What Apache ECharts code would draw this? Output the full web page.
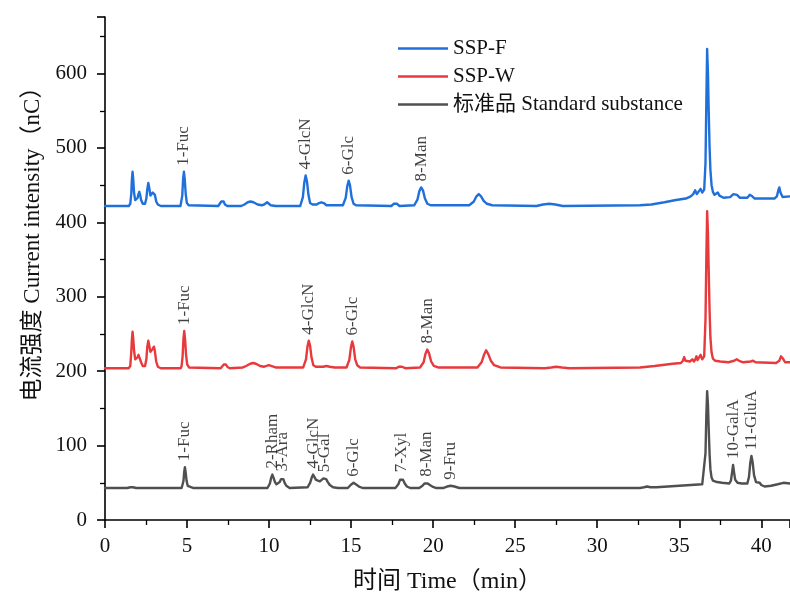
<!DOCTYPE html>
<html>
<head>
<meta charset="utf-8">
<script src="https://cdn.jsdelivr.net/npm/echarts@6/dist/echarts.min.js"></script>
<style>
  html, body { margin: 0; padding: 0; background: #fff; }
  #chart { width: 790px; height: 599px; }
</style>
</head>
<body>
<div id="chart"></div>
<script>
// Ion chromatograms: retention time (min) vs. detector response (nC)
const seriesNames = ['SSP-F', 'SSP-W', '标准品 Standard substance'];

// SSP-F trace, [time, response]
const sspF = [
  [0, 422], [1.45, 422], [1.54, 425], [1.6, 438], [1.64, 458], [1.68, 468], [1.72, 458],
  [1.77, 440], [1.84, 430], [1.92, 429], [1.99, 433], [2.04, 438], [2.09, 441], [2.14, 437],
  [2.2, 430], [2.3, 425], [2.44, 425], [2.52, 432], [2.58, 445], [2.64, 453], [2.7, 446],
  [2.77, 436], [2.84, 436], [2.91, 440], [2.98, 442], [3.04, 437], [3.12, 428], [3.22, 424],
  [3.4, 422], [4.6, 422], [4.65, 424], [4.71, 436], [4.76, 458], [4.81, 468], [4.86, 458],
  [4.92, 438], [4.99, 426], [5.1, 423], [6.9, 422], [7.02, 424], [7.09, 428], [7.16, 430],
  [7.23, 428], [7.31, 424], [7.45, 422], [8.3, 422], [8.5, 424], [8.7, 427], [8.87, 428],
  [9.05, 427], [9.3, 424], [9.55, 423], [9.7, 424], [9.8, 426], [9.88, 427], [9.96, 426],
  [10.1, 423], [10.4, 422], [11.9, 422], [11.96, 423], [12.06, 434], [12.15, 454], [12.23, 463],
  [12.31, 455], [12.4, 437], [12.5, 426], [12.65, 424], [12.9, 424], [13.05, 426], [13.19, 427],
  [13.33, 426], [13.5, 423], [14.5, 423], [14.55, 424], [14.67, 433], [14.77, 449], [14.85, 456],
  [14.93, 450], [15.03, 434], [15.15, 425], [15.3, 423], [17.45, 422], [17.6, 425], [17.69, 426],
  [17.8, 425], [17.95, 422], [18.85, 423], [18.9, 424], [19.05, 431], [19.16, 442], [19.27, 447],
  [19.38, 443], [19.5, 432], [19.65, 425], [19.85, 423], [22.2, 423], [22.28, 424], [22.48, 428],
  [22.64, 435], [22.78, 438], [22.92, 435], [23.08, 429], [23.28, 425], [23.6, 423], [26.3, 422],
  [26.7, 424], [27.08, 425], [27.45, 424], [27.9, 422], [32.6, 423], [33.3, 424], [34.1, 427],
  [34.8, 430], [35.4, 432], [35.7, 435], [35.85, 438], [35.97, 443], [36.07, 438], [36.17, 437],
  [36.3, 445], [36.4, 440], [36.52, 444], [36.6, 480], [36.65, 560], [36.7, 633], [36.75, 600],
  [36.8, 545], [36.85, 500], [36.9, 470], [36.97, 450], [37.05, 441], [37.15, 437], [37.25, 437],
  [37.35, 440], [37.45, 436], [37.7, 433], [38.1, 434], [38.3, 438], [38.4, 440], [38.52, 437],
  [38.7, 433], [39.15, 433], [39.3, 437], [39.36, 438], [39.45, 435], [39.6, 432], [40.8, 432],
  [40.95, 435], [41.05, 444], [41.1, 447], [41.17, 440], [41.3, 434], [41.75, 435]
];

// SSP-W trace, [time, response]
const sspW = [
  [0, 204], [1.45, 204], [1.54, 207], [1.6, 225], [1.64, 243], [1.68, 253], [1.72, 244],
  [1.77, 228], [1.84, 216], [1.92, 215], [1.99, 219], [2.04, 222], [2.09, 224], [2.14, 220],
  [2.2, 212], [2.3, 207], [2.44, 207], [2.52, 216], [2.58, 233], [2.64, 241], [2.7, 234],
  [2.77, 226], [2.84, 226], [2.91, 230], [2.98, 233], [3.04, 227], [3.12, 213], [3.22, 206],
  [3.4, 204], [4.62, 204], [4.67, 207], [4.73, 220], [4.78, 243], [4.83, 254], [4.88, 243],
  [4.94, 222], [5.01, 209], [5.12, 205], [7.05, 204], [7.17, 206], [7.24, 209], [7.3, 211],
  [7.37, 209], [7.45, 206], [7.6, 204], [8.4, 205], [8.6, 207], [8.85, 210], [9.03, 211],
  [9.2, 210], [9.45, 207], [9.7, 206], [9.85, 207], [9.98, 208], [10.1, 206], [10.4, 205],
  [12.08, 205], [12.15, 206], [12.25, 216], [12.34, 233], [12.42, 241], [12.5, 234], [12.59, 218],
  [12.7, 208], [12.85, 206], [13.3, 206], [13.49, 207], [13.7, 206], [14.0, 205], [14.72, 205],
  [14.77, 206], [14.89, 215], [14.99, 232], [15.07, 240], [15.15, 233], [15.25, 216], [15.37, 208],
  [15.55, 205], [17.75, 204], [17.9, 206], [18.0, 207], [18.1, 206], [18.3, 204], [19.2, 205],
  [19.26, 206], [19.42, 212], [19.53, 223], [19.64, 229], [19.75, 224], [19.88, 213], [20.04, 207],
  [20.3, 205], [22.7, 205], [22.76, 206], [22.95, 212], [23.1, 222], [23.23, 228], [23.36, 223],
  [23.52, 214], [23.72, 208], [24.1, 205], [26.8, 204], [27.2, 205], [27.5, 206], [27.85, 205],
  [28.3, 204], [32.6, 205], [33.5, 207], [34.6, 210], [35.1, 211], [35.22, 214], [35.3, 219],
  [35.38, 214], [35.5, 212], [35.65, 213], [35.8, 216], [35.9, 213], [35.98, 216], [36.05, 220],
  [36.12, 215], [36.2, 214], [36.3, 222], [36.4, 216], [36.52, 220], [36.6, 270], [36.65, 350],
  [36.7, 415], [36.75, 385], [36.8, 330], [36.85, 280], [36.9, 245], [36.97, 225], [37.05, 217],
  [37.2, 214], [37.5, 213], [38.0, 212], [38.35, 214], [38.5, 216], [38.65, 214], [38.9, 212],
  [39.35, 213], [39.5, 214], [39.65, 212], [40.9, 211], [41.1, 214], [41.2, 220], [41.25, 222],
  [41.32, 217], [41.45, 212], [41.75, 212]
];

// Standard mixture trace, [time, response]
const standard = [
  [0, 43], [1.35, 43], [1.55, 44], [1.62, 45], [1.7, 44], [1.9, 43], [4.67, 43], [4.72, 44],
  [4.78, 52], [4.83, 65], [4.87, 71], [4.91, 65], [4.97, 53], [5.04, 46], [5.15, 44], [5.4, 43],
  [9.9, 43], [9.95, 44], [10.05, 49], [10.13, 57], [10.2, 61], [10.27, 57], [10.36, 51],
  [10.45, 48], [10.55, 48], [10.65, 51], [10.73, 55], [10.8, 57], [10.87, 55], [10.95, 50],
  [11.05, 46], [11.25, 43], [12.35, 44], [12.4, 45], [12.5, 50], [12.6, 57], [12.68, 61],
  [12.76, 58], [12.86, 54], [12.98, 52], [13.1, 52], [13.22, 54], [13.31, 56], [13.39, 56],
  [13.48, 55], [13.58, 51], [13.7, 47], [13.9, 44], [14.2, 43], [14.8, 43], [14.85, 44],
  [14.97, 47], [15.06, 49], [15.15, 50], [15.24, 49], [15.35, 47], [15.48, 45], [15.7, 43],
  [17.7, 43], [17.75, 44], [17.88, 48], [17.98, 54], [18.07, 56], [18.16, 54], [18.27, 49],
  [18.4, 45], [18.6, 43], [19.15, 43], [19.35, 46], [19.47, 49], [19.57, 50], [19.67, 49],
  [19.8, 47], [19.95, 45], [20.2, 43], [20.6, 43], [20.85, 45], [21.07, 46], [21.3, 45],
  [21.6, 43], [32.6, 43], [32.85, 44], [33.04, 45], [33.25, 44], [33.6, 44], [35.0, 46],
  [36.4, 48], [36.52, 50], [36.6, 90], [36.65, 140], [36.7, 173], [36.75, 155], [36.8, 120],
  [36.85, 88], [36.9, 68], [36.97, 57], [37.05, 53], [37.3, 51], [37.6, 50], [38.05, 49],
  [38.15, 53], [38.22, 64], [38.28, 74], [38.34, 64], [38.41, 54], [38.55, 50], [38.8, 49],
  [39.15, 49], [39.25, 58], [39.33, 77], [39.4, 86], [39.47, 78], [39.56, 60], [39.68, 51],
  [39.8, 49], [39.9, 50], [40.0, 47], [40.2, 45], [40.6, 46], [41.0, 48], [41.35, 50], [41.75, 49]
];

// Peak annotations: [name, time, response at apex]
const peaksF = [
  ['1-Fuc', 4.81, 468], ['4-GlcN', 12.23, 463], ['6-Glc', 14.85, 456], ['8-Man', 19.27, 447]
];
const peaksW = [
  ['1-Fuc', 4.83, 254], ['4-GlcN', 12.42, 241], ['6-Glc', 15.07, 240], ['8-Man', 19.64, 229]
];
const peaksStd = [
  ['1-Fuc', 4.87, 71], ['2-Rham', 10.2, 61], ['3-Ara', 10.8, 57], ['4-GlcN', 12.68, 61],
  ['5-Gal', 13.39, 56], ['6-Glc', 15.15, 50], ['7-Xyl', 18.07, 56], ['8-Man', 19.57, 50],
  ['9-Fru', 21.07, 46], ['10-GalA', 38.28, 74], ['11-GluA', 39.4, 86]
];

const xTicks = { min: 0, max: 41.75, interval: 5 };
const yTicks = { min: 0, max: 676, interval: 100 };

const colors = ['#2070dc', '#e8393c', '#505050'];
const serif = '"Liberation Serif", "Times New Roman", "Noto Sans CJK SC", serif';

function traceSeries(name, data, color) {
  return {
    name: name,
    type: 'line',
    data: data,
    symbol: 'none',
    smooth: false,
    lineStyle: { color: color, width: 2.4, join: 'round', cap: 'round' },
    itemStyle: { color: color },
    z: 3
  };
}

function peakLabels(peaks) {
  return {
    type: 'scatter',
    data: peaks.map(p => ({ name: p[0], value: [p[1], p[2]] })),
    symbolSize: 0,
    silent: true,
    z: 4,
    label: {
      show: true,
      formatter: '{b}',
      position: 'top',
      distance: 6,
      rotate: 90,
      align: 'left',
      verticalAlign: 'middle',
      fontFamily: serif,
      fontSize: 17,
      color: '#111'
    }
  };
}

const chart = echarts.init(document.getElementById('chart'), null, { renderer: 'canvas' });
chart.setOption({
  animation: false,
  backgroundColor: '#ffffff',
  grid: { left: 105, right: 0, top: 17, bottom: 78, containLabel: false },
  legend: {
    data: seriesNames,
    orient: 'vertical',
    left: 393,
    top: 33,
    itemWidth: 50,
    itemHeight: 14,
    itemGap: 7,
    icon: 'path://M0,6 L50,6 L50,8.4 L0,8.4 Z',
    textStyle: { fontFamily: serif, fontSize: 21, color: '#111', lineHeight: 20 }
  },
  xAxis: {
    type: 'value',
    min: xTicks.min,
    max: xTicks.max,
    interval: xTicks.interval,
    name: '时间 Time（min）',
    nameLocation: 'middle',
    nameGap: 50,
    nameTextStyle: { fontFamily: serif, fontSize: 24, color: '#111' },
    axisLine: { show: true, lineStyle: { color: '#000', width: 1.6 } },
    axisTick: { show: true, length: 8, lineStyle: { color: '#000', width: 1.6 } },
    minorTick: { show: true, splitNumber: 2, length: 5, lineStyle: { color: '#000', width: 1.3 } },
    axisLabel: { fontFamily: serif, fontSize: 21, color: '#111', margin: 16, showMaxLabel: false },
    splitLine: { show: false }
  },
  yAxis: {
    type: 'value',
    min: yTicks.min,
    max: yTicks.max,
    interval: yTicks.interval,
    name: '电流强度 Current intensity（nC）',
    nameLocation: 'middle',
    nameGap: 61,
    nameTextStyle: { fontFamily: serif, fontSize: 23, color: '#111', padding: [0, 0, 0, 60] },
    axisLine: { show: true, lineStyle: { color: '#000', width: 1.6 } },
    axisTick: { show: true, length: 8, lineStyle: { color: '#000', width: 1.6 } },
    minorTick: { show: true, splitNumber: 2, length: 5, lineStyle: { color: '#000', width: 1.3 } },
    axisLabel: { fontFamily: serif, fontSize: 21, color: '#111', margin: 18, showMaxLabel: false },
    splitLine: { show: false }
  },
  series: [
    traceSeries(seriesNames[0], sspF, colors[0]),
    traceSeries(seriesNames[1], sspW, colors[1]),
    traceSeries(seriesNames[2], standard, colors[2]),
    peakLabels(peaksF),
    peakLabels(peaksW),
    peakLabels(peaksStd)
  ]
});
</script>
</body>
</html>
